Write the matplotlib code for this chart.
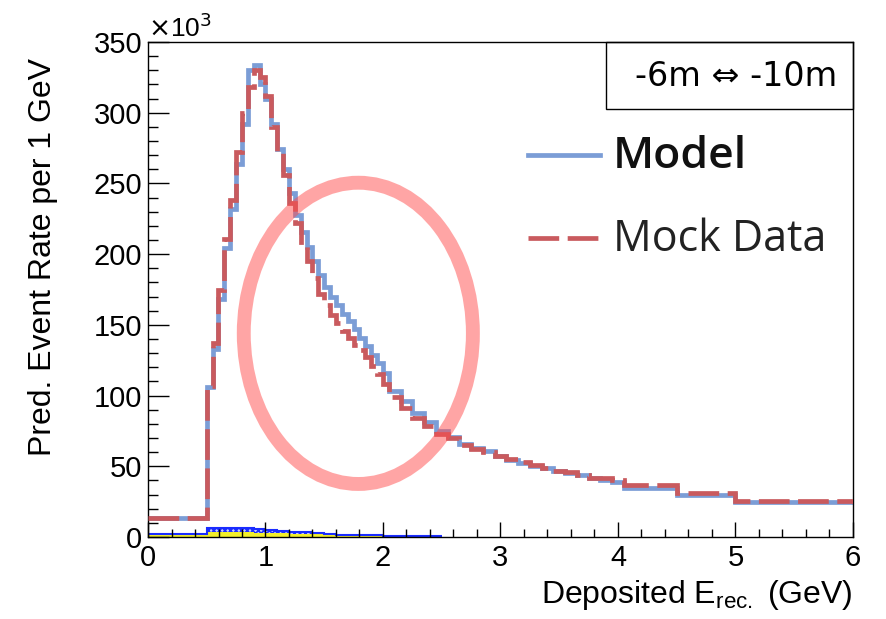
import numpy as np
import matplotlib

matplotlib.use("Agg")
import matplotlib.pyplot as plt
from matplotlib.patches import Ellipse, Rectangle
from matplotlib.lines import Line2D
from matplotlib.ticker import MultipleLocator

# bin edges (GeV): one wide bin, 0.05 bins to 2.05, 0.1 bins to 4.05, then wide bins
edges = np.concatenate([
    [0.0],
    np.round(np.arange(0.5, 2.05, 0.05), 2),
    np.round(np.arange(2.05, 4.051, 0.1), 2),
    [4.5, 5.0, 6.0],
])

# event rates in units of 10^3
model = [
    13.5,
    106, 133, 168, 204, 232, 264, 292, 330, 334, 320,
    310, 292, 274, 260, 243, 228, 216, 205, 195, 185,
    177, 170, 164, 158, 153, 147, 141, 135, 129, 123,
    116,
    103, 96, 88, 81, 75, 71, 66, 63, 60.5, 57.5,
    54.5, 52.5, 50, 48.5, 47, 45, 43.5, 41.5, 40, 39,
    34.6, 29.7, 24.8,
]
mock = [
    13.5,
    107, 137, 175, 211, 238, 272, 300, 318, 330, 325,
    312, 290, 272, 256, 236, 222, 206, 195, 183, 172,
    164, 157, 151, 146, 141, 136, 132, 127, 121, 115,
    108,
    99, 91, 84, 78.5, 73, 70, 65, 62.5, 60, 57,
    55, 53, 51, 49, 47, 46, 44, 42, 41.5, 40,
    37, 31, 25.5,
]

# small background components (10^3)
bkg_edges = [0.0, 0.5, 0.6, 0.7, 0.8, 0.9, 1.0, 1.1, 1.2, 1.3, 1.4, 1.5, 1.6, 1.7, 1.8, 2.0, 2.5]
bkg_yellow = [1.8, 3.6, 3.8, 3.6, 3.4, 3.1, 2.8, 2.5, 2.2, 2.0, 1.8, 1.6, 1.4, 1.2, 1.1, 0.9]
bkg_blue = [0.0, 2.6, 2.9, 3.0, 2.9, 2.7, 2.4, 2.0, 1.6, 1.2, 0.8, 0.5, 0.3, 0.1, 0.0, 0.0]

ROOT_FONT = ["Liberation Sans", "DejaVu Sans"]
plt.rcParams["font.family"] = ROOT_FONT
plt.rcParams["hatch.linewidth"] = 1.2

fig = plt.figure(figsize=(8.87, 6.19), dpi=100)
ax = fig.add_axes([148 / 887, 1 - 537 / 619, (853 - 148) / 887, (537 - 42) / 619])

blue_col = "#7b9dd6"
red_col = "#c95a5e"

bkg_y = np.array(bkg_yellow)
bkg_b = np.array(bkg_blue)
ax.stairs(bkg_y, bkg_edges, fill=True, color="#f2ef2a", linewidth=0, zorder=1)
ax.stairs(bkg_y + bkg_b, bkg_edges, baseline=bkg_y, fill=True, facecolor="#c8ccff",
          edgecolor="#1a2cff", hatch="xxxxxx", linewidth=0, zorder=1.1)
ax.stairs(bkg_y + bkg_b, bkg_edges, baseline=None, color="#1a2cff", linewidth=1.5, zorder=1.2)

ax.stairs(model, edges, baseline=None, color=blue_col, linewidth=3.4, zorder=2)
ax.stairs(mock, edges, baseline=None, color=red_col, linewidth=3.4,
          linestyle=(0, (6.5, 1.8)), zorder=3)

ring = Ellipse((1.79, 144), width=1.95, height=213, fill=False,
               edgecolor="#ff4d4d", alpha=0.5, linewidth=10, zorder=4)
ax.add_patch(ring)

ax.set_xlim(0, 6)
ax.set_ylim(0, 350)
ax.xaxis.set_major_locator(MultipleLocator(1))
ax.xaxis.set_minor_locator(MultipleLocator(0.2))
ax.yaxis.set_major_locator(MultipleLocator(50))
ax.yaxis.set_minor_locator(MultipleLocator(10))
ax.tick_params(which="both", direction="in", labelsize=21, width=1.0, colors="black")
ax.tick_params(axis="y", which="major", length=15, pad=4)
ax.tick_params(axis="y", which="minor", length=7.5)
ax.tick_params(axis="x", which="major", length=11, pad=5)
ax.tick_params(axis="x", which="minor", length=5.5)
for sp in ax.spines.values():
    sp.set_linewidth(1.0)

fig.text(148 / 887, 1 - 28 / 619, r"$\times$10$^{3}$", fontsize=19, ha="left", va="center")
fig.text(43 / 887, 1 - 58 / 619, "Pred. Event Rate per 1 GeV", rotation=90,
         fontsize=23, ha="center", va="top")
fig.text(853 / 887, 1 - 603 / 619, r"Deposited E$_{\mathregular{rec.}}$ (GeV)",
         fontsize=23, ha="right", va="baseline")

# region label box in top right corner
box = Rectangle((606 / 887, 1 - 109 / 619), (853 - 606) / 887, (109 - 42) / 619,
                transform=fig.transFigure, fill=False, edgecolor="black", linewidth=1.0)
fig.add_artist(box)
fig.text(736 / 887, 1 - 77 / 619, "-6m \u21d4 -10m", fontsize=24, ha="center",
         va="center", family=["DejaVu Sans"])

# legend drawn by hand
fig.add_artist(Line2D([528 / 887, 600 / 887], [1 - 155 / 619, 1 - 155 / 619],
                      transform=fig.transFigure, color=blue_col, linewidth=3.4))
fig.add_artist(Line2D([528 / 887, 600 / 887], [1 - 238 / 619, 1 - 238 / 619],
                      transform=fig.transFigure, color=red_col, linewidth=3.4,
                      linestyle=(0, (6.5, 1.8))))
fig.text(613 / 887, 1 - 157 / 619, "Model", fontsize=32, fontweight="semibold",
         family=["Open Sans", "DejaVu Sans"], color="#111111", ha="left", va="center")
fig.text(613 / 887, 1 - 240 / 619, "Mock Data", fontsize=31,
         family=["Open Sans", "DejaVu Sans"], color="#222222", ha="left", va="center")

fig.savefig("out.png", dpi=100)
